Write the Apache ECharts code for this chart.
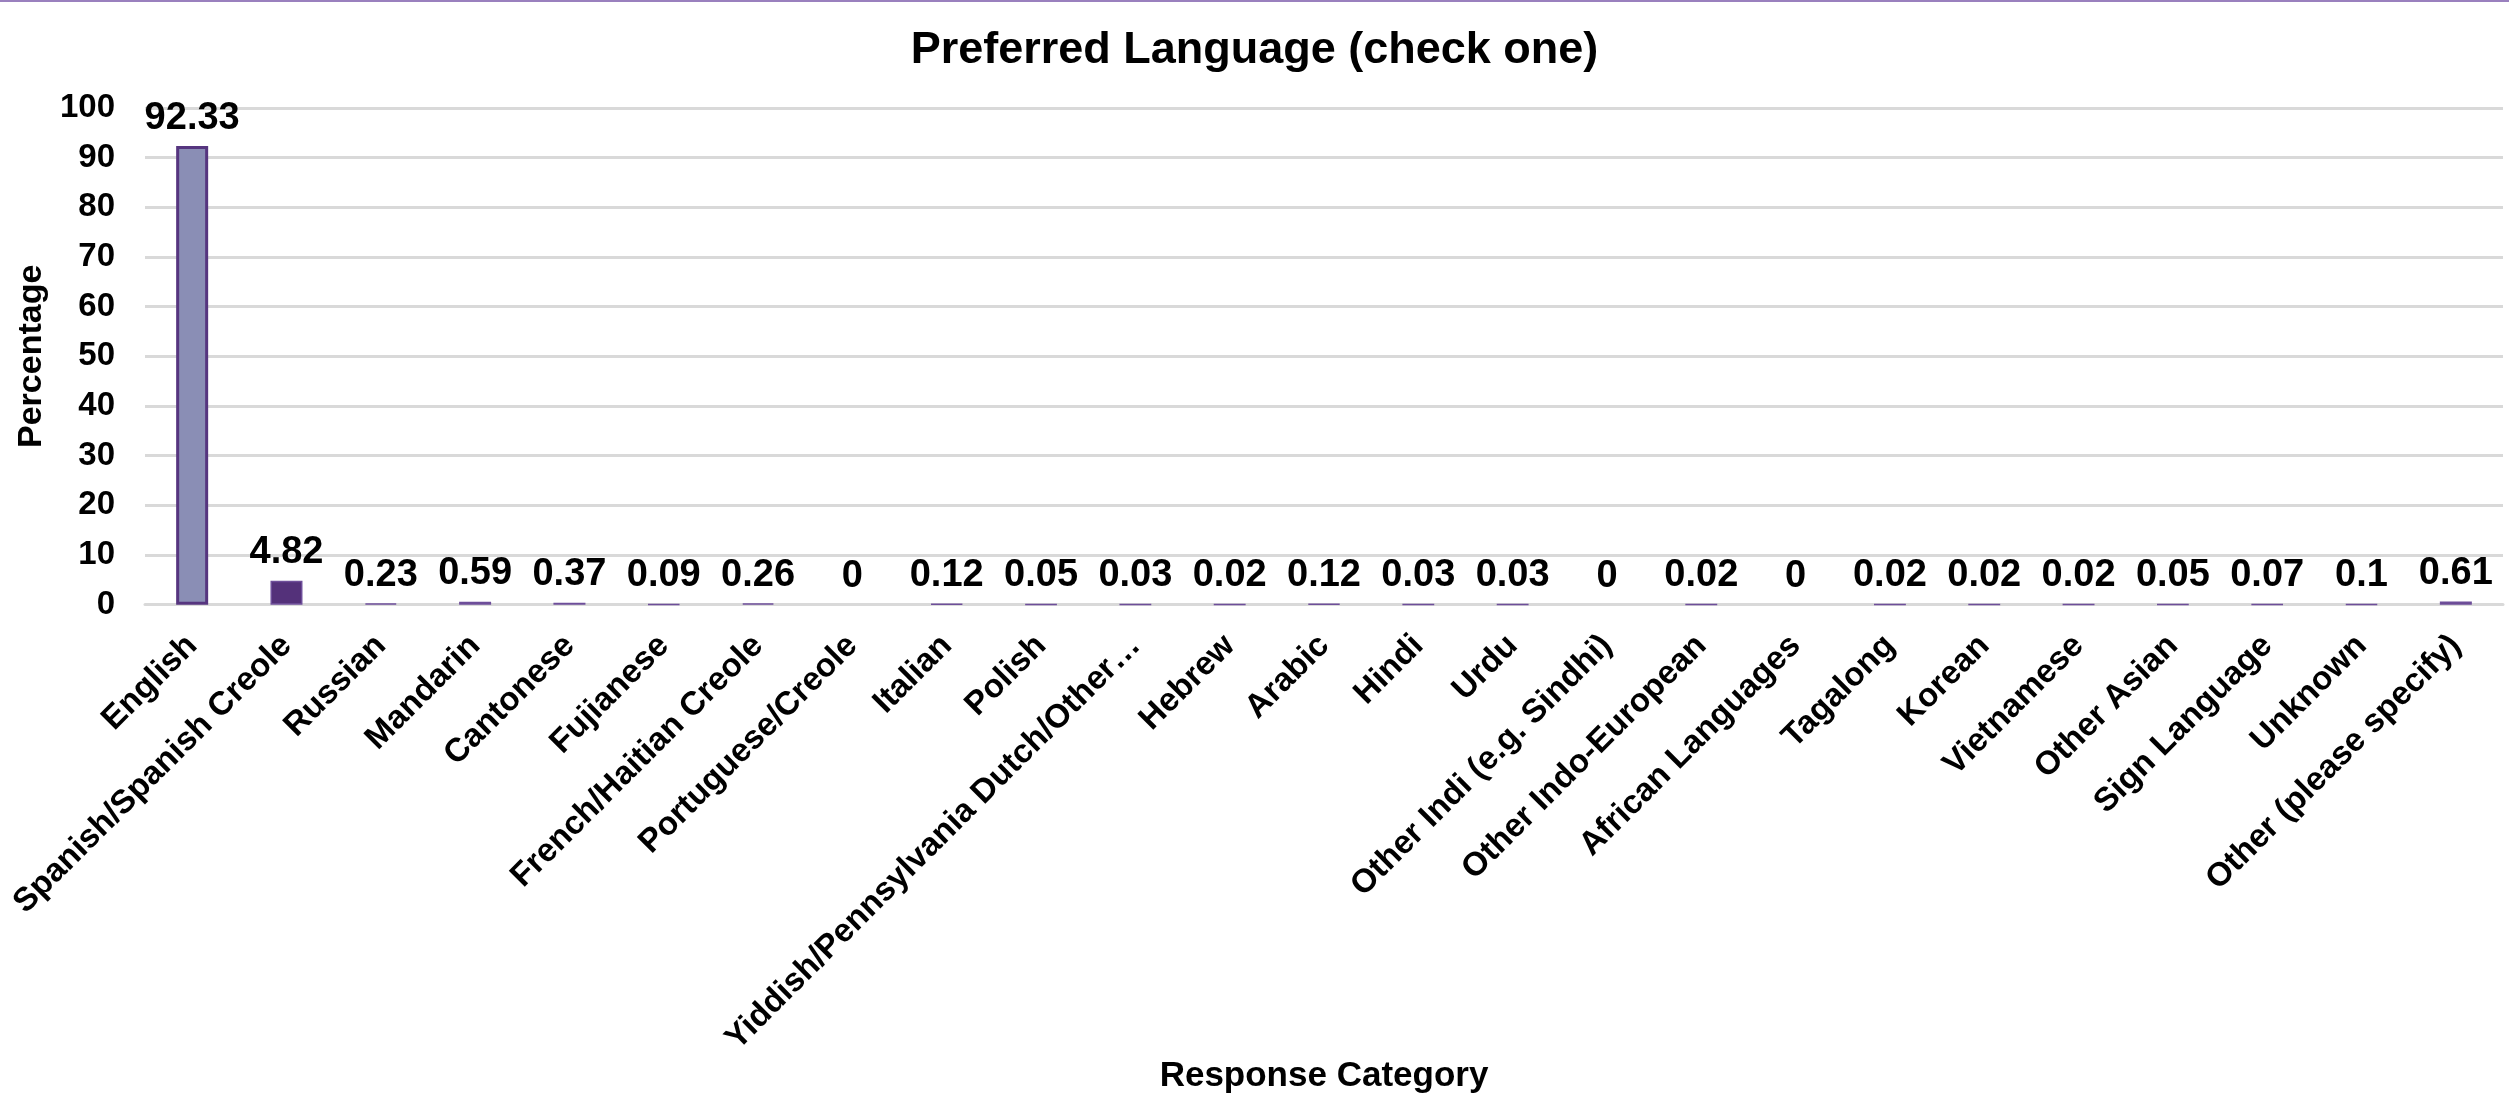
<!DOCTYPE html>
<html>
<head>
<meta charset="utf-8">
<script src="https://cdn.jsdelivr.net/npm/echarts@6/dist/echarts.min.js"></script>
<style>
html,body{margin:0;padding:0;background:#fff;}
#chart{width:2509px;height:1095px;}
</style>
</head>
<body>
<div id="chart"></div>
<script>
const titleText = 'Preferred Language (check one)';
const yAxisTitle = 'Percentage';
const xAxisTitle = 'Response Category';
const categories = [
  'English', 'Spanish/Spanish Creole', 'Russian', 'Mandarin', 'Cantonese',
  'Fujianese', 'French/Haitian Creole', 'Portuguese/Creole', 'Italian', 'Polish',
  'Yiddish/Pennsylvania Dutch/Other…', 'Hebrew', 'Arabic', 'Hindi', 'Urdu',
  'Other Indi (e.g. Sindhi)', 'Other Indo-European', 'African Languages', 'Tagalong', 'Korean',
  'Vietnamese', 'Other Asian', 'Sign Language', 'Unknown', 'Other (please specify)'
];
const percentages = [
  92.33, 4.82, 0.23, 0.59, 0.37,
  0.09, 0.26, 0, 0.12, 0.05,
  0.03, 0.02, 0.12, 0.03, 0.03,
  0, 0.02, 0, 0.02, 0.02,
  0.02, 0.05, 0.07, 0.1, 0.61
];
const yTicks = {min: 0, max: 100, interval: 10};

const FONT = '"Liberation Sans", Arial, sans-serif';
const chart = echarts.init(document.getElementById('chart'), null, {renderer: 'canvas'});

const barData = percentages.map((v, i) => {
  if (i === 0) {
    return {value: v, itemStyle: {color: '#8A8EB5', borderColor: '#56357F', borderWidth: 3}};
  }
  if (v === 0) {
    return {value: v, itemStyle: {borderWidth: 0, color: 'rgba(0,0,0,0)'}};
  }
  return v;
});

chart.setOption({
  animation: false,
  backgroundColor: '#ffffff',
  title: {
    text: titleText,
    left: 'center',
    top: 23,
    textStyle: {fontFamily: FONT, fontWeight: 'bold', fontSize: 45, color: '#000'}
  },
  graphic: [{
    type: 'rect',
    shape: {x: 0, y: 0, width: 2509, height: 2},
    style: {fill: '#9A80BE'}
  }],
  grid: {left: 145, right: 6, top: 108, bottom: 481, containLabel: false},
  xAxis: {
    type: 'category',
    data: categories,
    name: xAxisTitle,
    nameLocation: 'middle',
    nameGap: 443,
    nameTextStyle: {fontFamily: FONT, fontWeight: 'bold', fontSize: 35, color: '#000'},
    axisLine: {show: true, lineStyle: {color: '#D9D9D9', width: 3}},
    axisTick: {show: false},
    axisLabel: {
      interval: 0,
      rotate: 45,
      margin: 36,
      fontFamily: FONT,
      fontWeight: 'bold',
      fontSize: 33,
      color: '#000'
    }
  },
  yAxis: {
    type: 'value',
    min: yTicks.min,
    max: yTicks.max,
    interval: yTicks.interval,
    name: yAxisTitle,
    nameLocation: 'middle',
    nameGap: 96,
    nameRotate: 90,
    nameTextStyle: {fontFamily: FONT, fontWeight: 'bold', fontSize: 34, color: '#000'},
    axisLine: {show: false},
    axisTick: {show: false},
    splitLine: {lineStyle: {color: '#D9D9D9', width: 3}},
    axisLabel: {
      margin: 30,
      fontFamily: FONT,
      fontWeight: 'bold',
      fontSize: 33,
      color: '#000'
    }
  },
  series: [{
    type: 'bar',
    data: barData,
    barWidth: 32,
    itemStyle: {color: '#54317A', borderColor: '#6E4E9A', borderWidth: 1.5},
    label: {
      show: true,
      position: 'top',
      distance: 9,
      fontFamily: FONT,
      fontWeight: 'bold',
      fontSize: 38,
      color: '#000'
    }
  }]
});
</script>
</body>
</html>
